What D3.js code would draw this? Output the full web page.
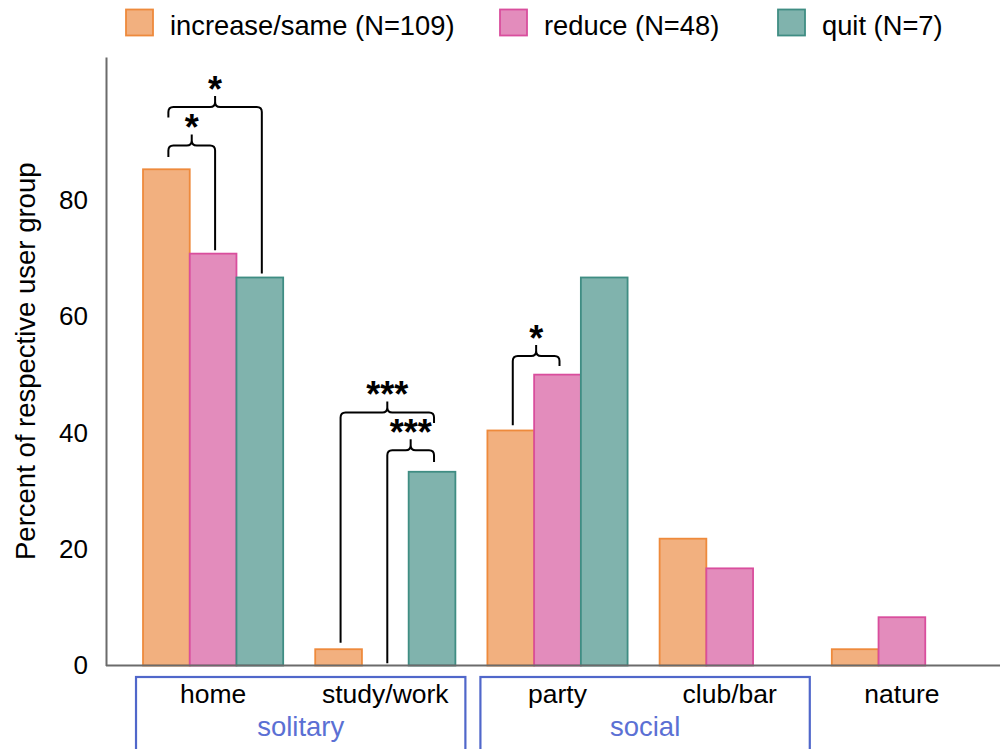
<!DOCTYPE html>
<html>
<head>
<meta charset="utf-8">
<script src="https://cdn.jsdelivr.net/npm/d3@7"></script>
<style>
  body { margin: 0; background: #fff; }
  svg { display: block; font-family: Arial, "Liberation Sans", sans-serif; }
</style>
</head>
<body>
<svg id="chart" width="1000" height="749"></svg>
<script>
// ---- data ----
const categories = ["home", "study/work", "party", "club/bar", "nature"];
const seriesKeys = ["increase", "reduce", "quit"];
const seriesLabels = ["increase/same (N=109)", "reduce (N=48)", "quit (N=7)"];
const increaseValues = [85.3, 2.8, 40.4, 21.8, 2.8];
const reduceValues = [70.8, 0, 50.0, 16.7, 8.3];
const quitValues = [66.7, 33.3, 66.7, 0, 0];
const yTicks = [0, 20, 40, 60, 80];
const groupNames = ["solitary", "social"];
const groupMembers = [["home", "study/work"], ["party", "club/bar"]];
// significance brackets: level and leg ends in percent units
const bracketCats = ["home", "home", "study/work", "study/work", "party"];
const bracketFrom = ["increase", "increase", "increase", "reduce", "increase"];
const bracketTo = ["reduce", "quit", "quit", "quit", "reduce"];
const bracketLevel = [89.4, 96.0, 43.5, 37.0, 53.2];
const bracketFromEnd = [87.4, 94.2, 3.9, 0.4, 41.3];
const bracketToEnd = [71.4, 67.4, 41.7, 35.0, 51.5];
const bracketStars = ["*", "*", "***", "***", "*"];

const seriesValues = { increase: increaseValues, reduce: reduceValues, quit: quitValues };
const fills = { increase: "#F2B07F", reduce: "#E38CBC", quit: "#80B3AD" };
const strokes = { increase: "#EE8A3C", reduce: "#D94E9D", quit: "#3F8D83" };

// ---- layout ----
const svg = d3.select("#chart");
const baseY = 665.5, topY = 57, axisX = 106;
const textColor = "#000";

const x = d3.scaleBand().domain(categories).range([127, 988])
  .paddingInner(0.186).paddingOuter(0.093);
const xs = d3.scaleBand().domain(seriesKeys).range([0, x.bandwidth()]);
const y = d3.scaleLinear().domain([0, 104.6]).range([baseY, topY]);

// bars
const barData = [];
categories.forEach((c, i) => seriesKeys.forEach(k => {
  const v = seriesValues[k][i];
  if (v > 0) barData.push({ cat: c, key: k, value: v });
}));
svg.append("g").selectAll("rect").data(barData).join("rect")
  .attr("x", d => x(d.cat) + xs(d.key))
  .attr("y", d => y(d.value))
  .attr("width", xs.bandwidth())
  .attr("height", d => y(0) - y(d.value))
  .attr("fill", d => fills[d.key])
  .attr("stroke", d => strokes[d.key])
  .attr("stroke-width", 1.8);

// y axis
const yAxis = svg.append("g").attr("transform", `translate(${axisX},0)`)
  .call(d3.axisLeft(y).tickValues(yTicks).tickSize(0).tickPadding(18).tickFormat(d3.format("d")));
yAxis.select(".domain").attr("stroke", "#6b6b6b").attr("stroke-width", 2);
yAxis.selectAll("text").attr("font-size", 26).attr("fill", textColor)
  .attr("font-family", "Arial, 'Liberation Sans', sans-serif");

// baseline
svg.append("line").attr("x1", axisX).attr("x2", 1000).attr("y1", baseY).attr("y2", baseY)
  .attr("stroke", "#6b6b6b").attr("stroke-width", 2);

// x axis labels
const xAxis = svg.append("g").attr("transform", `translate(0,${baseY})`)
  .call(d3.axisBottom(x).tickSize(0).tickPadding(19));
xAxis.select(".domain").remove();
xAxis.selectAll("text").attr("font-size", 26.5).attr("fill", textColor)
  .attr("font-family", "Arial, 'Liberation Sans', sans-serif");

// y title
svg.append("text")
  .attr("transform", `translate(35,${(baseY + topY) / 2}) rotate(-90)`)
  .attr("text-anchor", "middle").attr("font-size", 27.5).attr("fill", textColor)
  .text("Percent of respective user group");

// category groups
const groupColor = "#5067CA";
groupNames.forEach((g, i) => {
  const mem = groupMembers[i];
  const x0 = x(mem[0]) - 7;
  const x1 = x(mem[mem.length - 1]) + x.bandwidth() + 10;
  svg.append("rect").attr("x", x0).attr("y", 677).attr("width", x1 - x0).attr("height", 100)
    .attr("fill", "none").attr("stroke", groupColor).attr("stroke-width", 2.2);
  svg.append("text").attr("x", (x0 + x1) / 2).attr("y", 736).attr("text-anchor", "middle")
    .attr("font-size", 27.5).attr("fill", "#5B70D4").text(g);
});

// significance brackets
const r = 5, bump = 11;
const bg = svg.append("g").attr("fill", "none").attr("stroke", "#000").attr("stroke-width", 2);
bracketCats.forEach((c, i) => {
  const xl = x(c) + xs(bracketFrom[i]) + xs.bandwidth() / 2 + 2;
  const xr = x(c) + xs(bracketTo[i]) + xs.bandwidth() / 2 + 2;
  const xm = (xl + xr) / 2;
  const yh = y(bracketLevel[i]);
  const yl = y(bracketFromEnd[i]);
  const yr = y(bracketToEnd[i]);
  const p = d3.path();
  p.moveTo(xl, yl); p.lineTo(xl, yh + r); p.quadraticCurveTo(xl, yh, xl + r, yh);
  p.lineTo(xm - r, yh); p.quadraticCurveTo(xm, yh, xm, yh - r); p.lineTo(xm, yh - bump);
  p.moveTo(xm, yh - r); p.quadraticCurveTo(xm, yh, xm + r, yh);
  p.lineTo(xr - r, yh); p.quadraticCurveTo(xr, yh, xr, yh + r); p.lineTo(xr, yr);
  bg.append("path").attr("d", p.toString());
  svg.append("text").attr("x", xm).attr("y", yh - bump + 6).attr("text-anchor", "middle")
    .attr("font-size", 36).attr("font-weight", "bold").attr("fill", "#000").text(bracketStars[i]);
});

// legend
const legendX = [126, 500, 778];
const lg = svg.append("g");
seriesKeys.forEach((k, i) => {
  lg.append("rect").attr("x", legendX[i]).attr("y", 9.5).attr("width", 27).attr("height", 26)
    .attr("fill", fills[k]).attr("stroke", strokes[k]).attr("stroke-width", 1.8);
  lg.append("text").attr("x", legendX[i] + 44).attr("y", 35).attr("font-size", 27.3)
    .attr("fill", textColor).text(seriesLabels[i]);
});
</script>
</body>
</html>
